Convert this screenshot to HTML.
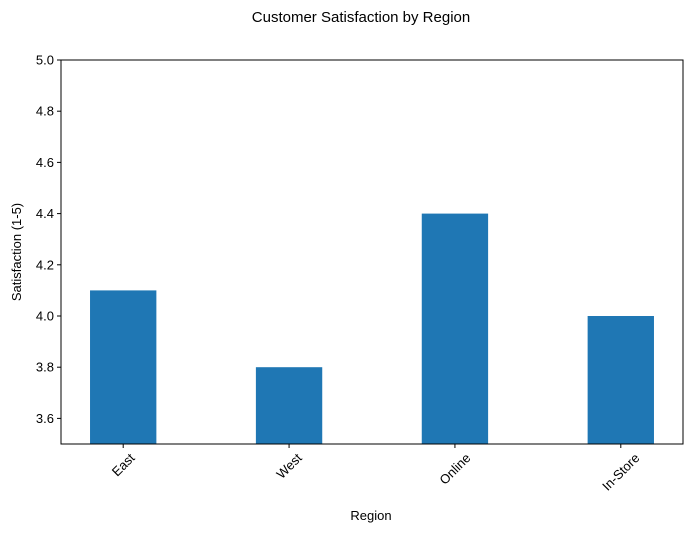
<!DOCTYPE html>
<html><head><meta charset="utf-8"><style>
body{margin:0;background:#fff;}
svg text{font-family:"Liberation Sans","DejaVu Sans",sans-serif;fill:#000;}
</style></head><body>
<svg id="chart" width="691" height="532" xmlns="http://www.w3.org/2000/svg">
<text x="361" y="22" font-size="15" text-anchor="middle">Customer Satisfaction by Region</text>
<g id="plot"></g>
<text x="371" y="520" font-size="13" text-anchor="middle">Region</text>
<text transform="translate(21,252) rotate(-90)" font-size="13" text-anchor="middle">Satisfaction (1-5)</text>
</svg>
<script>
const categories=["East","West","Online","In-Store"];
const values=[4.1,3.8,4.4,4.0];
const yTicks=[3.6,3.8,4.0,4.2,4.4,4.6,4.8,5.0];
const L=61,R=683,T=60,B=444,yMin=3.5,yMax=5.0,xMin=-0.375,xMax=3.375,bw=0.4;
const sx=v=>L+(v-xMin)/(xMax-xMin)*(R-L);
const sy=v=>B-(v-yMin)/(yMax-yMin)*(B-T);
const g=document.getElementById('plot');const NS="http://www.w3.org/2000/svg";
function mk(t,a){const e=document.createElementNS(NS,t);for(const k in a)e.setAttribute(k,a[k]);g.appendChild(e);return e;}
values.forEach((v,i)=>{
 const r=mk('rect',{x:sx(i-bw/2),y:sy(v),width:sx(i+bw/2)-sx(i-bw/2),height:B-sy(v),fill:'#1f77b4'});
 
 
});
mk('rect',{x:L,y:T,width:R-L,height:B-T,fill:'none',stroke:'#000','stroke-width':1});
yTicks.forEach(t=>{
 const y=sy(t);
 mk('line',{x1:L-4,x2:L,y1:y,y2:y,stroke:'#000'});
 const tx=mk('text',{x:L-7,y:y+4.5,'font-size':13,'text-anchor':'end'});tx.textContent=t.toFixed(1);
 
 
});
categories.forEach((c,i)=>{
 const x=sx(i);
 mk('line',{x1:x,x2:x,y1:B,y2:B+4,stroke:'#000'});
 const tx=mk('text',{'font-size':13,'text-anchor':'middle','dominant-baseline':'central'});tx.textContent=c;
 const w=tx.getComputedTextLength(),h=13;
 const half=(w+h)/Math.SQRT2/2;
 tx.setAttribute('transform',`translate(${x},${B+7+half}) rotate(-45)`);
 
 
});
</script>
</body></html>
